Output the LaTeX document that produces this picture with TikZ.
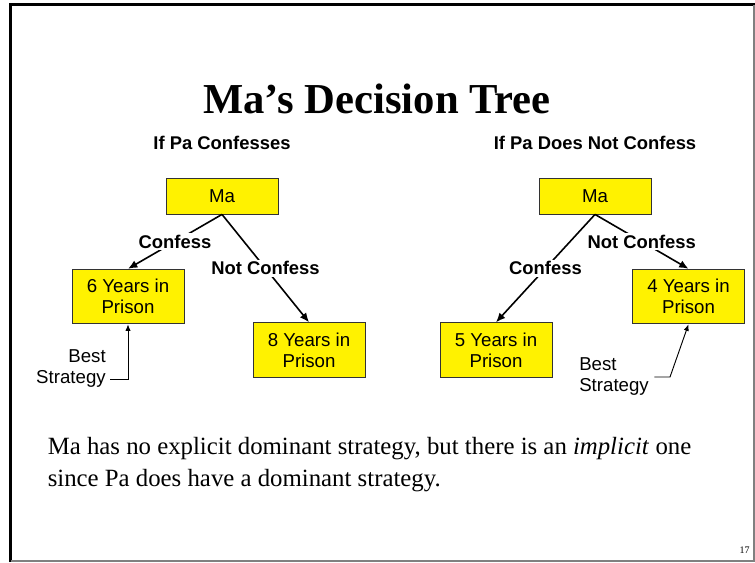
\documentclass[tikz,border=0pt]{standalone}
\usepackage{fontspec}
\setmainfont{Liberation Serif}
\newfontfamily\arialfont{Liberation Sans}
\usetikzlibrary{arrows.meta}

\begin{document}
\begin{tikzpicture}[x=0.75pt,y=-0.75pt,
  box/.style={draw=black!80,fill=yellow,line width=0.6pt,minimum width=84pt,
    inner sep=0pt,align=center,font=\arialfont\fontsize{14}{15.75}\selectfont},
  move/.style={midway,fill=white,inner sep=1.5pt,
    font=\arialfont\bfseries\fontsize{13.8}{15.75}\selectfont},
  branch/.style={line width=1.2pt,-{Latex[length=7pt,width=6pt]}},
  pointer/.style={line width=0.7pt,-{Latex[length=5pt,width=4pt]}},
  hint/.style={inner sep=0pt,font=\arialfont\fontsize{14}{15.75}\selectfont},
  case/.style={anchor=base,font=\arialfont\bfseries\fontsize{13.8}{16}\selectfont}]
\useasboundingbox (0,0) rectangle (755,562);
% --- slide frame ---
\draw[line width=2.25pt] (10.5,562) -- (10.5,4.5) -- (755,4.5);
\draw[gray,line width=1.5pt] (754,4.5) -- (754,561) -- (10.5,561);
% --- heading and the two cases ---
\node[anchor=base,font=\bfseries\fontsize{32}{36}\selectfont] (title) at (377,113) {Ma’s Decision Tree};
\node[case] (caseA) at (222,149) {If Pa Confesses};
\node[case] (caseB) at (595,149) {If Pa Does Not Confess};
% --- Pa confesses ---
\node[box,minimum height=27pt] (maA) at (222,196) {Ma};
\node[box,minimum height=41pt] (sixA) at (128,296.5) {6 Years in\\Prison};
\node[box,minimum height=41pt] (eightA) at (309,350) {8 Years in\\Prison};
\draw[branch] (maA.south) -- node[move] {Confess} (sixA.north);
\draw[branch] (maA.south) -- node[move] {Not Confess} (eightA.north);
\node[hint,align=right,anchor=east] (bestA) at (106,369) {Best\\Strategy};
\draw[pointer] ([xshift=3pt,yshift=-7.5pt]bestA.east) -| (sixA.south);
% --- Pa does not confess ---
\node[box,minimum height=27pt] (maB) at (595,196) {Ma};
\node[box,minimum height=41pt] (fiveB) at (496,350) {5 Years in\\Prison};
\node[box,minimum height=41pt] (fourB) at (688.5,296.5) {4 Years in\\Prison};
\draw[branch] (maB.south) -- node[move] {Confess} (fiveB.north);
\draw[branch] (maB.south) -- node[move] {Not Confess} (fourB.north);
\node[hint,align=left,anchor=west] (bestB) at (579,377) {Best\\Strategy};
\coordinate (bendB) at (670,377);
\draw[pointer] ([xshift=4pt]bestB.east) -- (bendB) -- (fourB.south);
% --- remark and page number ---
\node[anchor=north west,inner sep=0pt,align=left,font=\fontsize{18.6}{23.5}\selectfont] (remark) at (47.5,437.5)
  {Ma has no explicit dominant strategy, but there is an \textit{implicit} one\\since Pa does have a dominant strategy.};
\node[anchor=base east,inner sep=0pt,font=\fontsize{7.5}{9}\selectfont] (page) at (750,553) {17};
\end{tikzpicture}
\end{document}
